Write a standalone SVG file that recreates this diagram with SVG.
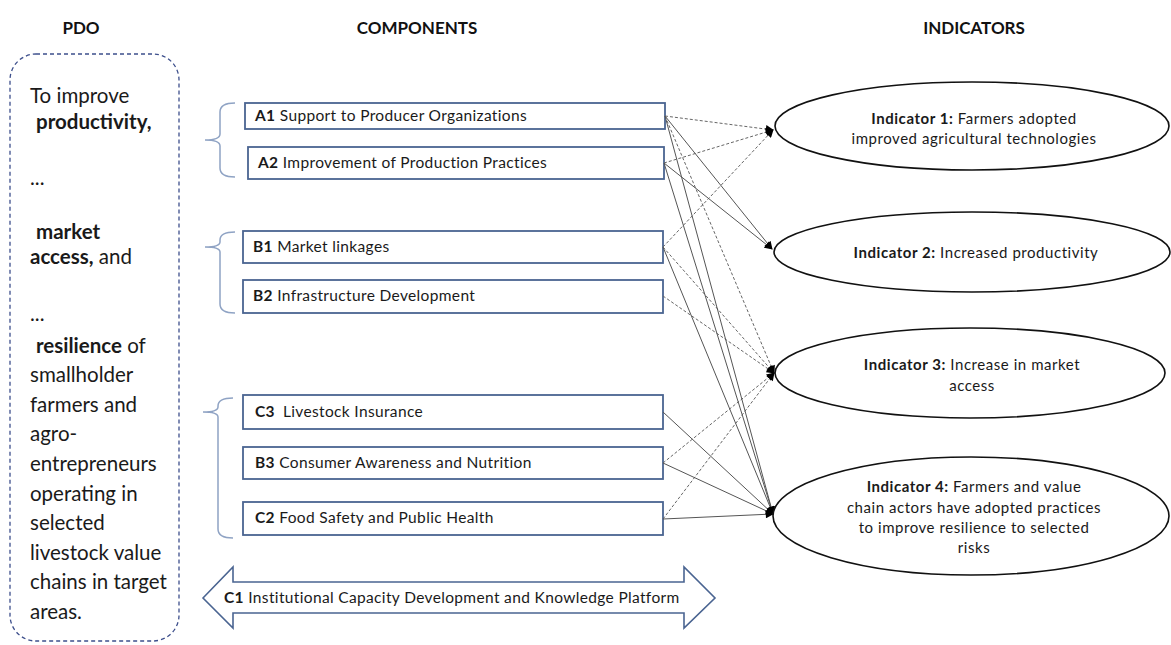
<svg xmlns="http://www.w3.org/2000/svg" width="1171" height="645" viewBox="0 0 1171 645">
  <style>
    .title { font-family: Lato, "Open Sans", "Liberation Sans", sans-serif; font-weight: 700; font-size: 17px; fill: #111; }
    .pdo { font-family: Lato, "Open Sans", "Liberation Sans", sans-serif; font-size: 20.5px; fill: #1a1a1a; }
    .comp { font-family: Lato, "Open Sans", "Liberation Sans", sans-serif; font-size: 15.5px; letter-spacing: 0.35px; fill: #1a1a1a; }
    .ind { font-family: Lato, "Open Sans", "Liberation Sans", sans-serif; font-size: 15px; letter-spacing: 0.55px; fill: #1a1a1a; text-anchor: middle; }
    .b { font-weight: 700; }
    .box { fill: #fff; stroke: #4a6491; stroke-width: 1.8; }
    .brace { fill: none; stroke: #8fa3c4; stroke-width: 1.5; }
    .oval { fill: #fff; stroke: #111; stroke-width: 1.6; }
    .solid { fill: none; stroke: #555; stroke-width: 1; marker-end: url(#tip); }
    .dash { fill: none; stroke: #666; stroke-width: 1; stroke-dasharray: 3 2; marker-end: url(#tip); }
  </style>
  <defs>
    <marker id="tip" viewBox="0 0 10 10" refX="9" refY="5" markerWidth="9" markerHeight="8" markerUnits="userSpaceOnUse" orient="auto">
      <path d="M0,0 L10,5 L0,10 Z" fill="#000"/>
    </marker>
  </defs>

  <rect width="1171" height="645" fill="#fff"/>

  <!-- column headings -->
  <g id="headings">
    <text class="title" x="81" y="34" text-anchor="middle">PDO</text>
    <text class="title" x="417" y="34" text-anchor="middle">COMPONENTS</text>
    <text class="title" x="974" y="34" text-anchor="middle">INDICATORS</text>
  </g>

  <!-- project development objective -->
  <g id="pdo">
    <rect x="10" y="54" width="169" height="587" rx="26" ry="26" fill="none" stroke="#3d4f8c" stroke-width="1.3" stroke-dasharray="4 3"/>
    <text class="pdo" x="30" y="103">To improve</text>
    <text class="pdo b" x="36" y="129">productivity,</text>
    <text class="pdo" x="30" y="185">...</text>
    <text class="pdo b" x="36" y="239">market</text>
    <text class="pdo" x="30" y="264"><tspan class="b">access,</tspan> and</text>
    <text class="pdo" x="30" y="321">...</text>
    <text class="pdo" x="36" y="353"><tspan class="b">resilience</tspan> of</text>
    <text class="pdo" x="30" y="382">smallholder</text>
    <text class="pdo" x="30" y="412">farmers and</text>
    <text class="pdo" x="30" y="441">agro-</text>
    <text class="pdo" x="30" y="471">entrepreneurs</text>
    <text class="pdo" x="30" y="501">operating in</text>
    <text class="pdo" x="30" y="530">selected</text>
    <text class="pdo" x="30" y="560">livestock value</text>
    <text class="pdo" x="30" y="589">chains in target</text>
    <text class="pdo" x="30" y="619">areas.</text>
  </g>

  <!-- grouping braces -->
  <g id="braces">
    <path class="brace" d="M235,103 Q220,103 220,112 L220,134 Q220,140 205,140 Q220,140 220,146 L220,168 Q220,177 235,177"/>
    <path class="brace" d="M235,232 Q220,232 220,240 L220,242 Q220,247 205,247 Q220,247 220,252 L220,304 Q220,313 235,313"/>
    <path class="brace" d="M233,398 Q218,398 218,406 L218,407 Q218,412 203,412 Q218,412 218,417 L218,529 Q218,538 233,538"/>
  </g>

  <!-- components -->
  <g id="comp-a1">
    <rect class="box" x="245" y="103" width="420" height="26"/>
    <text class="comp" x="255" y="121"><tspan class="b">A1</tspan> Support to Producer Organizations</text>
  </g>
  <g id="comp-a2">
    <rect class="box" x="248" y="147" width="416" height="32"/>
    <text class="comp" x="258" y="168"><tspan class="b">A2</tspan> Improvement of Production Practices</text>
  </g>
  <g id="comp-b1">
    <rect class="box" x="243" y="231" width="420" height="32"/>
    <text class="comp" x="253" y="252"><tspan class="b">B1</tspan> Market linkages</text>
  </g>
  <g id="comp-b2">
    <rect class="box" x="243" y="280" width="420" height="33"/>
    <text class="comp" x="253" y="301"><tspan class="b">B2</tspan> Infrastructure Development</text>
  </g>
  <g id="comp-c3">
    <rect class="box" x="243" y="395" width="420" height="34"/>
    <text class="comp" x="255" y="417"><tspan class="b">C3</tspan><tspan dx="8">Livestock Insurance</tspan></text>
  </g>
  <g id="comp-b3">
    <rect class="box" x="243" y="447" width="420" height="32"/>
    <text class="comp" x="255" y="468"><tspan class="b">B3</tspan> Consumer Awareness and Nutrition</text>
  </g>
  <g id="comp-c2">
    <rect class="box" x="243" y="502" width="420" height="33"/>
    <text class="comp" x="255" y="523"><tspan class="b">C2</tspan> Food Safety and Public Health</text>
  </g>
  <g id="comp-c1">
    <path d="M203,598 L233,567 L233,582 L684,582 L684,567 L715,598 L684,628 L684,613 L233,613 L233,628 Z" fill="#fff" stroke="#4a6491" stroke-width="1.6" stroke-linejoin="miter"/>
    <text class="comp" x="224" y="603"><tspan class="b">C1</tspan> Institutional Capacity Development and Knowledge Platform</text>
  </g>

  <!-- component to indicator links -->
  <g id="connectors">
    <line class="dash" x1="665" y1="116" x2="773" y2="130"/>
    <line class="dash" x1="664" y1="163" x2="773" y2="130"/>
    <line class="dash" x1="663" y1="247" x2="773" y2="130"/>
    <line class="solid" x1="665" y1="116" x2="772" y2="249"/>
    <line class="solid" x1="664" y1="163" x2="772" y2="249"/>
    <line class="dash" x1="665" y1="116" x2="774" y2="373"/>
    <line class="dash" x1="663" y1="247" x2="774" y2="373"/>
    <line class="dash" x1="663" y1="296" x2="774" y2="373"/>
    <line class="dash" x1="663" y1="463" x2="774" y2="373"/>
    <line class="dash" x1="663" y1="519" x2="774" y2="373"/>
    <line class="solid" x1="665" y1="116" x2="773" y2="514"/>
    <line class="solid" x1="664" y1="163" x2="773" y2="514"/>
    <line class="solid" x1="663" y1="247" x2="773" y2="514"/>
    <line class="solid" x1="663" y1="412" x2="773" y2="514"/>
    <line class="solid" x1="663" y1="463" x2="773" y2="514"/>
    <line class="solid" x1="663" y1="519" x2="773" y2="514"/>
  </g>

  <!-- indicators -->
  <g id="ind-1">
    <ellipse class="oval" cx="972" cy="126" rx="197" ry="44"/>
    <text class="ind" x="974" y="124"><tspan class="b">Indicator 1:</tspan> Farmers adopted</text>
    <text class="ind" x="974" y="144">improved agricultural technologies</text>
  </g>
  <g id="ind-2">
    <ellipse class="oval" cx="972" cy="252" rx="198" ry="40"/>
    <text class="ind" x="976" y="258"><tspan class="b">Indicator 2:</tspan> Increased productivity</text>
  </g>
  <g id="ind-3">
    <ellipse class="oval" cx="970" cy="373" rx="195" ry="45"/>
    <text class="ind" x="972" y="370"><tspan class="b">Indicator 3:</tspan> Increase in market</text>
    <text class="ind" x="972" y="391">access</text>
  </g>
  <g id="ind-4">
    <ellipse class="oval" cx="971" cy="516" rx="198" ry="59"/>
    <text class="ind" x="974" y="492"><tspan class="b">Indicator 4:</tspan> Farmers and value</text>
    <text class="ind" x="974" y="513">chain actors have adopted practices</text>
    <text class="ind" x="974" y="533">to improve resilience to selected</text>
    <text class="ind" x="974" y="553">risks</text>
  </g>
</svg>
